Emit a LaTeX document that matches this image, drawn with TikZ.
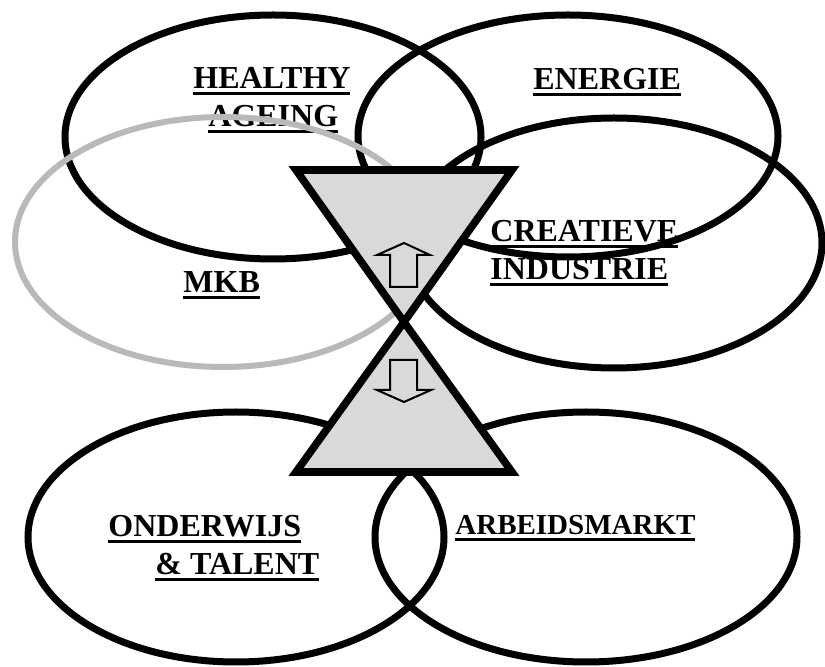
\documentclass[tikz,border=0pt]{standalone}
\usepackage{fontspec}
\setmainfont{Liberation Serif}
\newcommand\ultext[1]{\setbox0\hbox{#1}\rlap{\rule[-3pt]{\wd0}{1.3pt}}\box0}
\tikzset{
	ring/.style={line width=3.5pt},
	grayring/.style={line width=3pt,draw=gray!55},
	label/.style={anchor=base west,inner sep=0pt,font=\bfseries\fontsize{16}{19}\selectfont},
	glass/.style={line width=3.8pt,fill=gray!30,line join=miter},
	flow/.style={line width=1pt,fill=gray!30},
}
\begin{document}
\begin{tikzpicture}[x=0.5pt,y=-0.5pt]
	\useasboundingbox (0,0) rectangle (825,667);
		\node[label] (healthy) at (193,89) {\ultext{HEALTHY}};
		\node[label] (ageing) at (208,127) {\ultext{AGEING}};
		\node[label] (energie) at (533,90) {\ultext{ENERGIE}};
		\node[label] (creatieve) at (490,242) {\ultext{CREATIEVE}};
		\node[label] (industrie) at (490,280) {\ultext{INDUSTRIE}};
		\node[label] (mkb) at (183,293) {\ultext{MKB}};
		\node[label] (onderwijs) at (108,537) {\ultext{ONDERWIJS}};
		\node[label] (talent) at (155,575) {\ultext{\& TALENT}};
		\node[label,font=\bfseries\fontsize{14.5}{17}\selectfont] (arbeid) at (455,535) {\ultext{ARBEIDSMARKT}};
	% ellipses
		\draw[ring] (273,137) ellipse [x radius=208,y radius=122];
		\draw[ring] (568,136) ellipse [x radius=210,y radius=121];
		\draw[ring] (614,243) ellipse [x radius=208,y radius=125];
		\draw[ring] (236,537) ellipse [x radius=208,y radius=125];
		\draw[ring] (586,537) ellipse [x radius=211,y radius=125];
		\draw[grayring] (223,242) ellipse [x radius=208,y radius=125];
	% hourglass
		\coordinate (A) at (296,170);
		\coordinate (B) at (512,170);
		\coordinate (O) at (404,322);
		\coordinate (C) at (296,472);
		\coordinate (D) at (512,472);
	%	\fill (O) circle (3);
		\draw[glass] (A) -- (B) -- (O) -- cycle;
		\draw[glass] (O) -- (C) -- (D) -- cycle;
	% arrows
		\draw[flow] (404,243) -- (430,255) -- (417,255) -- (417,287) -- (390,287) -- (390,255) -- (377,255) -- cycle;
		\draw[flow] (390,360) -- (417,360) -- (417,390) -- (431,390) -- (404,402) -- (377,390) -- (390,390) -- cycle;
\end{tikzpicture}
\end{document}
